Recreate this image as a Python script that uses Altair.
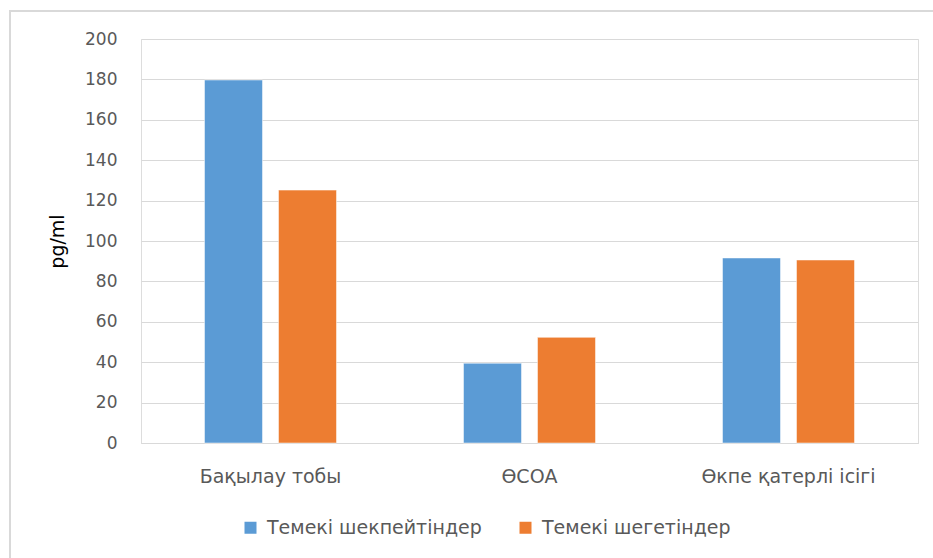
import altair as alt
import pandas as pd

# Groups on the x axis and the two series drawn in each group
groups = ["Бақылау тобы", "ӨСОА", "Өкпе қатерлі ісігі"]
series = ["Темекі шекпейтіндер", "Темекі шегетіндер"]
non_smokers = [179.7, 39.5, 91.6]
smokers = [125.2, 52.3, 90.6]
colors = ["#5b9bd5", "#ed7d31"]

rows = []
for g, a, b in zip(groups, non_smokers, smokers):
    rows.append({"group": g, "series": series[0], "value": a})
    rows.append({"group": g, "series": series[1], "value": b})
df = pd.DataFrame(rows)

FONT = "DejaVu Sans"
TEXT = "#595959"
GRID = "#d9d9d9"

bars = alt.Chart(df).mark_bar(stroke="white", strokeWidth=0.5).encode(
    x=alt.X(
        "group:N",
        sort=groups,
        scale=alt.Scale(paddingInner=0, paddingOuter=0),
        axis=alt.Axis(
            title=None,
            labelAngle=0,
            labelFontSize=19,
            labelColor=TEXT,
            labelFont=FONT,
            labelPadding=24,
            ticks=False,
            domainColor=GRID,
            domainWidth=1,
        ),
    ),
    xOffset=alt.XOffset(
        "series:N",
        sort=series,
        scale=alt.Scale(paddingInner=0.216, paddingOuter=0.858),
    ),
    y=alt.Y(
        "value:Q",
        scale=alt.Scale(domain=[0, 200]),
        axis=alt.Axis(
            title="pg/ml",
            values=list(range(0, 201, 20)),
            titleFontSize=19,
            titleFont=FONT,
            titleFontWeight="normal",
            titleColor="#000000",
            titlePadding=17,
            labelFontSize=17,
            labelColor=TEXT,
            labelFont=FONT,
            labelPadding=24,
            ticks=False,
            domain=False,
            gridColor=GRID,
            gridWidth=1,
        ),
    ),
    color=alt.Color(
        "series:N",
        sort=series,
        scale=alt.Scale(domain=series, range=colors),
        legend=alt.Legend(
            title=None,
            orient="none",
            direction="horizontal",
            legendX=100,
            legendY=479,
            symbolType="square",
            symbolSize=144,
            symbolStrokeWidth=0,
            labelFontSize=19,
            labelFont=FONT,
            labelColor=TEXT,
            labelLimit=400,
            columnPadding=34,
            labelOffset=7,
        ),
    ),
)

# Light outer frame around the chart area
frame = alt.Chart(df).mark_rect(fill=None, stroke=GRID, strokeWidth=1.5).encode(
    x=alt.value(-131), x2=alt.value(800), y=alt.value(-28), y2=alt.value(530)
)

chart = (
    alt.layer(frame, bars)
    .properties(
        width=777,
        height=404,
        autosize=alt.AutoSizeParams(type="none"),
        padding={"left": 141, "top": 39, "right": 15, "bottom": 115},
    )
    .configure_view(stroke=None)
    .configure(background="white")
)

chart.save("out.html", embed_options={"renderer": "svg", "actions": False})
